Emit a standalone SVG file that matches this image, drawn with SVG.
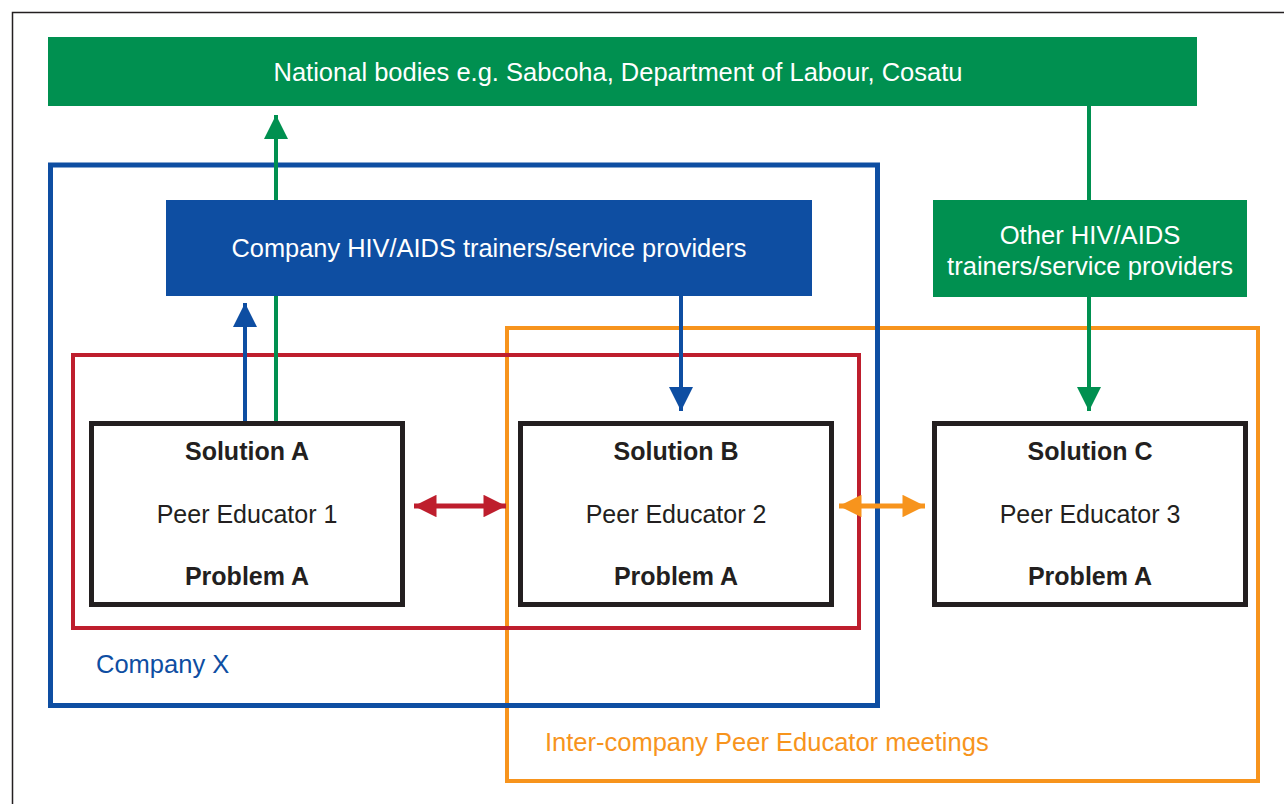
<svg xmlns="http://www.w3.org/2000/svg" width="1284" height="804" viewBox="0 0 1284 804">
<defs>
<style>
text{font-family:"Liberation Sans",Arial,sans-serif;}
.w{fill:#ffffff;font-size:25.6px;}
.b{fill:#231f20;font-size:25px;}
.bb{fill:#231f20;font-size:25px;font-weight:bold;}
.peer{fill:none;stroke:#231f20;stroke-width:5;}
</style>
<marker id="gh" viewBox="0 0 10 10" refX="10" refY="5" markerWidth="6" markerHeight="6" markerUnits="strokeWidth" orient="auto"><path d="M0,0L10,5L0,10z" fill="#009050"/></marker>
<marker id="bh" viewBox="0 0 10 10" refX="10" refY="5" markerWidth="6" markerHeight="6" markerUnits="strokeWidth" orient="auto"><path d="M0,0L10,5L0,10z" fill="#0e4ea2"/></marker>
<marker id="rh" viewBox="0 0 10 10" refX="10" refY="5" markerWidth="5" markerHeight="4.5" markerUnits="strokeWidth" orient="auto-start-reverse"><path d="M0,0L10,5L0,10z" fill="#be1e2d"/></marker>
<marker id="oh" viewBox="0 0 10 10" refX="10" refY="5" markerWidth="5" markerHeight="4.5" markerUnits="strokeWidth" orient="auto-start-reverse"><path d="M0,0L10,5L0,10z" fill="#f7941d"/></marker>
</defs>
<rect width="1284" height="804" fill="#ffffff"/>
<rect x="12.5" y="12.5" width="1290" height="810" fill="none" stroke="#231f20" stroke-width="1.5"/>

<g id="groups">
<rect id="inter-company" x="507" y="328" width="751" height="453" fill="none" stroke="#f7941d" stroke-width="4"/>
<rect id="company-x" x="50.5" y="165" width="827" height="540.5" fill="none" stroke="#0e4ea2" stroke-width="5"/>
<rect id="red-group" x="73" y="355" width="786" height="273" fill="none" stroke="#be1e2d" stroke-width="4"/>
<text x="96" y="673" style="fill:#0e4ea2;font-size:25.5px">Company X</text>
<text x="545" y="751" style="fill:#f7941d;font-size:25.5px">Inter-company Peer Educator meetings</text>
</g>

<g id="connectors">
<line x1="276" y1="421" x2="276" y2="115" stroke="#009050" stroke-width="4" marker-end="url(#gh)"/>
<line x1="245" y1="421" x2="245" y2="303" stroke="#0e4ea2" stroke-width="4" marker-end="url(#bh)"/>
<line x1="681" y1="296" x2="681" y2="411" stroke="#0e4ea2" stroke-width="4" marker-end="url(#bh)"/>
<line x1="1089" y1="106" x2="1089" y2="200" stroke="#009050" stroke-width="4"/>
<line x1="1089" y1="297" x2="1089" y2="411" stroke="#009050" stroke-width="4" marker-end="url(#gh)"/>
<line x1="414" y1="506" x2="506" y2="506" stroke="#be1e2d" stroke-width="5" marker-start="url(#rh)" marker-end="url(#rh)"/>
<line x1="839" y1="506" x2="925" y2="506" stroke="#f7941d" stroke-width="5" marker-start="url(#oh)" marker-end="url(#oh)"/>
</g>

<g id="national">
<rect x="48" y="37" width="1149" height="69" fill="#009050"/>
<text class="w" x="618" y="81" text-anchor="middle" style="font-size:25.5px">National bodies e.g. Sabcoha, Department of Labour, Cosatu</text>
</g>

<g id="company-trainers">
<rect x="166" y="200" width="646" height="96" fill="#0e4ea2"/>
<text class="w" x="489" y="257" text-anchor="middle" style="font-size:25.4px">Company HIV/AIDS trainers/service providers</text>
</g>

<g id="other-trainers">
<rect x="933" y="200" width="314" height="97" fill="#009050"/>
<text class="w" x="1090" y="244" text-anchor="middle">Other HIV/AIDS</text>
<text class="w" x="1090" y="275" text-anchor="middle">trainers/service providers</text>
</g>

<g id="peer1">
<rect class="peer" x="91.5" y="423.5" width="311" height="181" fill="#ffffff"/>
<text class="bb" x="247" y="460" text-anchor="middle">Solution A</text>
<text class="b" x="247" y="523" text-anchor="middle">Peer Educator 1</text>
<text class="bb" x="247" y="585" text-anchor="middle">Problem A</text>
</g>

<g id="peer2">
<rect class="peer" x="520.5" y="423.5" width="311" height="181" fill="#ffffff"/>
<text class="bb" x="676" y="460" text-anchor="middle">Solution B</text>
<text class="b" x="676" y="523" text-anchor="middle">Peer Educator 2</text>
<text class="bb" x="676" y="585" text-anchor="middle">Problem A</text>
</g>

<g id="peer3">
<rect class="peer" x="934.5" y="423.5" width="311" height="181" fill="#ffffff"/>
<text class="bb" x="1090" y="460" text-anchor="middle">Solution C</text>
<text class="b" x="1090" y="523" text-anchor="middle">Peer Educator 3</text>
<text class="bb" x="1090" y="585" text-anchor="middle">Problem A</text>
</g>
</svg>
